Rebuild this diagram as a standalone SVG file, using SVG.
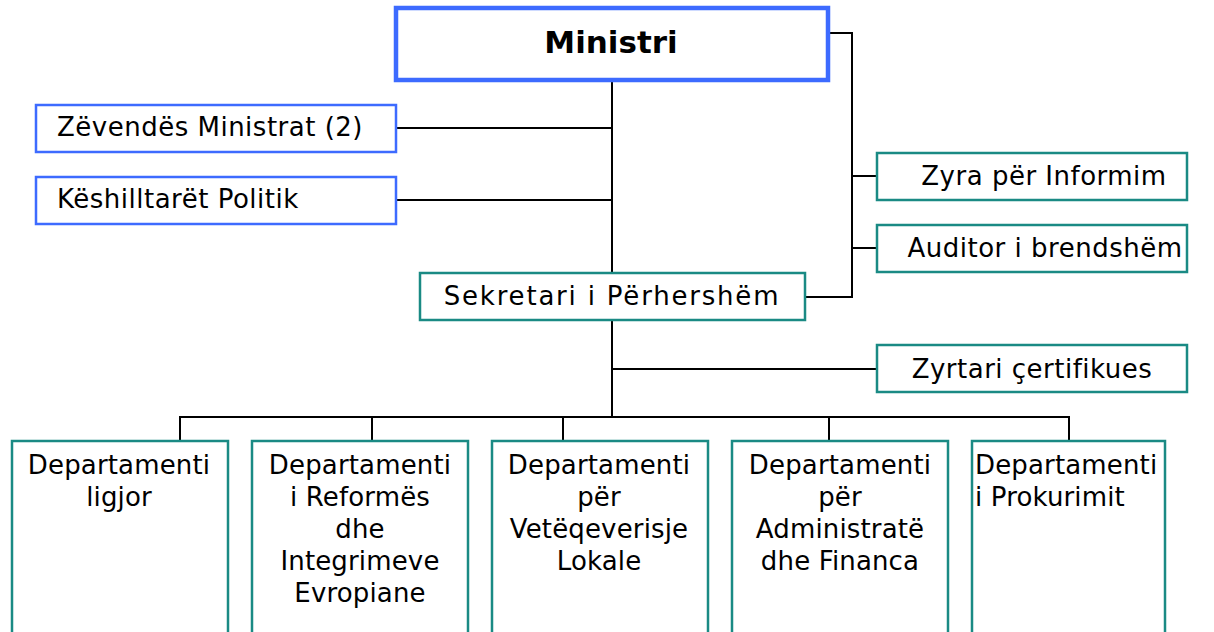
<svg xmlns="http://www.w3.org/2000/svg" width="1214" height="632" viewBox="0 0 1214 632">
<style>
.bg{fill:#ffffff}
.blue{fill:#ffffff;stroke:#3d6bff;stroke-width:2.5}
.teal{fill:#ffffff;stroke:#1a8a84;stroke-width:2.5}
.t{font-family:"DejaVu Sans","Verdana",sans-serif;font-size:26px;letter-spacing:0.5px;fill:#000}
.d{letter-spacing:0.15px}
.c{text-anchor:middle}
.title{font-family:"DejaVu Sans","Verdana",sans-serif;font-size:31px;font-weight:bold;fill:#000;text-anchor:middle}
.conn line,.conn polyline{stroke:#000;stroke-width:2;fill:none}
</style>
<rect class="bg" x="0" y="0" width="1214" height="632"/>
<g class="conn" id="connectors">
<line x1="612" y1="82" x2="612" y2="273"/>
<line x1="612" y1="320" x2="612" y2="417"/>
<line x1="397" y1="128" x2="612" y2="128"/>
<line x1="397" y1="200" x2="612" y2="200"/>
<polyline points="830,33 852,33 852,297 806,297"/>
<line x1="852" y1="176" x2="876" y2="176"/>
<line x1="852" y1="248" x2="876" y2="248"/>
<line x1="612" y1="369" x2="876" y2="369"/>
<polyline points="180,441 180,417 1069,417 1069,441"/>
<line x1="372" y1="417" x2="372" y2="441"/>
<line x1="563" y1="417" x2="563" y2="441"/>
<line x1="829" y1="417" x2="829" y2="441"/>
</g>
<g id="ministri">
<rect x="396" y="8" width="432" height="72" fill="#fff" stroke="#3d6bff" stroke-width="4.5"/>
<text class="title" x="611" y="53">Ministri</text>
</g>
<g id="zevendes">
<rect class="blue" x="36" y="105" width="360" height="47"/>
<text class="t" x="57" y="136">Zëvendës Ministrat (2)</text>
</g>
<g id="keshilltaret">
<rect class="blue" x="36" y="177" width="360" height="47"/>
<text class="t" x="57" y="208">Këshilltarët Politik</text>
</g>
<g id="zyra">
<rect class="teal" x="877" y="153" width="310" height="47"/>
<text class="t c" x="1044" y="185">Zyra për Informim</text>
</g>
<g id="auditor">
<rect class="teal" x="877" y="225" width="310" height="47"/>
<text class="t c" x="1045" y="257">Auditor i brendshëm</text>
</g>
<g id="sekretari">
<rect class="teal" x="420" y="273" width="385" height="47"/>
<text class="t c" x="612" y="305" style="letter-spacing:1.8px">Sekretari i Përhershëm</text>
</g>
<g id="zyrtari">
<rect class="teal" x="877" y="345" width="310" height="47"/>
<text class="t c" x="1032" y="378">Zyrtari çertifikues</text>
</g>
<g id="dep-ligjor">
<rect class="teal" x="12" y="441" width="216" height="193"/>
<text class="t d c" x="119" y="474">Departamenti</text>
<text class="t d c" x="119" y="506">ligjor</text>
</g>
<g id="dep-reformes">
<rect class="teal" x="252" y="441" width="216" height="193"/>
<text class="t d c" x="360" y="474">Departamenti</text>
<text class="t d c" x="360" y="506">i Reformës</text>
<text class="t d c" x="360" y="538">dhe</text>
<text class="t d c" x="360" y="570">Integrimeve</text>
<text class="t d c" x="360" y="602">Evropiane</text>
</g>
<g id="dep-veteqeverisje">
<rect class="teal" x="492" y="441" width="216" height="193"/>
<text class="t d c" x="599" y="474">Departamenti</text>
<text class="t d c" x="599" y="506">për</text>
<text class="t d c" x="599" y="538">Vetëqeverisje</text>
<text class="t d c" x="599" y="570">Lokale</text>
</g>
<g id="dep-administrate">
<rect class="teal" x="732" y="441" width="216" height="193"/>
<text class="t d c" x="840" y="474">Departamenti</text>
<text class="t d c" x="840" y="506">për</text>
<text class="t d c" x="840" y="538">Administratë</text>
<text class="t d c" x="840" y="570">dhe Financa</text>
</g>
<g id="dep-prokurimit">
<rect class="teal" x="972" y="441" width="193" height="193"/>
<text class="t d" x="975" y="474">Departamenti</text>
<text class="t d" x="975" y="506">i Prokurimit</text>
</g>
</svg>
